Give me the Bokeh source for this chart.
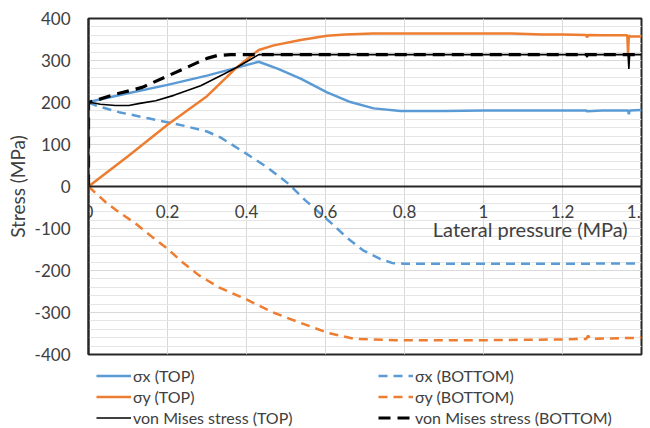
from bokeh.plotting import figure
from bokeh.models import (Range1d, FixedTicker, LinearAxis, Legend, LegendItem, Label)
from bokeh.layouts import column
from bokeh.embed import file_html
from bokeh.resources import INLINE

# ---------------- data ----------------
sx_top_x = [0, 0.1, 0.2, 0.3, 0.376, 0.431, 0.48, 0.537, 0.604, 0.663, 0.722, 0.79, 0.9, 1.0, 1.1, 1.2, 1.26, 1.262, 1.3, 1.366, 1.368, 1.37, 1.4]
sx_top_y = [201, 222, 242, 264, 283, 297, 280, 257, 224, 201, 186, 180, 180, 181, 181, 181, 181, 179, 181, 181, 172, 181, 182]

sx_bot_x = [0, 0.018, 0.077, 0.148, 0.24, 0.3, 0.334, 0.393, 0.452, 0.507, 0.549, 0.617, 0.653, 0.695, 0.737, 0.768, 0.8, 1.0, 1.2, 1.4]
sx_bot_y = [200, 193, 177, 163, 145, 131, 117, 82, 46, 6, -33, -89, -121, -152, -172, -182, -184, -184, -184, -183]

sy_top_x = [0, 0.1, 0.2, 0.3, 0.376, 0.431, 0.469, 0.537, 0.604, 0.65, 0.72, 0.8, 0.9, 1.0, 1.07, 1.15, 1.2, 1.26, 1.262, 1.265, 1.3, 1.364, 1.366, 1.368, 1.37, 1.4]
sy_top_y = [0, 72, 147, 215, 284, 325, 336, 349, 359, 362, 364, 364, 364, 364, 364, 362, 362, 361, 355, 361, 360, 360, 316, 360, 358, 357]

sy_bot_x = [0, 0.043, 0.077, 0.119, 0.161, 0.2, 0.237, 0.279, 0.33, 0.4, 0.465, 0.532, 0.608, 0.674, 0.78, 1.0, 1.2, 1.26, 1.265, 1.27, 1.4]
sy_bot_y = [0, -37, -61, -88, -120, -148, -180, -211, -240, -269, -299, -323, -349, -363, -366, -366, -364, -363, -355, -363, -360]

vm_top_x = [0, 0.03, 0.068, 0.102, 0.13, 0.17, 0.216, 0.284, 0.343, 0.376, 0.431, 0.6, 0.8, 1.0, 1.2, 1.26, 1.262, 1.265, 1.366, 1.368, 1.37, 1.4]
vm_top_y = [201, 196, 193, 193, 198, 204, 217, 240, 268, 284, 314, 314, 314, 314, 314, 314, 308, 314, 314, 280, 314, 314]

vm_bot_x = [0, 0, 0.018, 0.07, 0.136, 0.2, 0.241, 0.28, 0.3, 0.326, 0.36, 0.6, 1.0, 1.4]
vm_bot_y = [0, 200, 205, 220, 236, 263, 280, 297, 305, 312, 314, 314, 314, 314]

x_ticks = [0, 0.2, 0.4, 0.6, 0.8, 1.0, 1.2, 1.4]
x_tick_labels = ["0", "0.2", "0.4", "0.6", "0.8", "1", "1.2", "1.4"]
y_ticks = [-400, -300, -200, -100, 0, 100, 200, 300, 400]
y_tick_labels = ["-400", "-300", "-200", "-100", "0", "100", "200", "300", "400"]
y_minor_ticks = [-380, -360, -340, -320, -280, -260, -240, -220, -180, -160, -140, -120,
                 -80, -60, -40, -20, 20, 40, 60, 80, 120, 140, 160, 180,
                 220, 240, 260, 280, 320, 340, 360, 380]

labels = ["σx (TOP)", "σx (BOTTOM)", "σy (TOP)", "σy (BOTTOM)",
          "von Mises stress (TOP)", "von Mises stress (BOTTOM)"]

BLUE = "#5B9BD5"
ORANGE = "#ED7D31"
TXT = "#404040"
FONT = "Lato"

# styles for the six series (same order as labels)
styles = [dict(line_color=BLUE, line_width=2.5),
          dict(line_color=BLUE, line_width=2.5, line_dash="9 6"),
          dict(line_color=ORANGE, line_width=2.5),
          dict(line_color=ORANGE, line_width=2.5, line_dash="9 6"),
          dict(line_color="black", line_width=1.6),
          dict(line_color="black", line_width=3.2, line_dash="12 7")]
series = [(sx_top_x, sx_top_y), (sx_bot_x, sx_bot_y), (sy_top_x, sy_top_y),
          (sy_bot_x, sy_bot_y), (vm_top_x, vm_top_y), (vm_bot_x, vm_bot_y)]

p = figure(width=650, height=365, output_backend="svg", toolbar_location=None,
           x_range=Range1d(0, 1.4), y_range=Range1d(-400, 400),
           x_axis_location=None, y_axis_location="left",
           min_border_left=88, min_border_right=9, min_border_top=18, min_border_bottom=11)
p.background_fill_color = "white"
p.border_fill_color = "white"
p.outline_line_color = "#262626"
p.outline_line_width = 2

# grids
p.ygrid.ticker = FixedTicker(ticks=y_ticks, minor_ticks=y_minor_ticks)
p.ygrid.grid_line_color = "#d9d9d9"
p.ygrid.grid_line_width = 1
p.ygrid.minor_grid_line_color = "#e6e6e6"
p.ygrid.minor_grid_line_width = 1
p.xgrid.ticker = FixedTicker(ticks=x_ticks)
p.xgrid.grid_line_color = "#d9d9d9"
p.xgrid.grid_line_width = 1

# y axis
ya = p.yaxis[0]
ya.ticker = FixedTicker(ticks=y_ticks, minor_ticks=y_minor_ticks)
ya.major_label_overrides = {t: s for t, s in zip(y_ticks, y_tick_labels)}
ya.axis_line_color = "#262626"
ya.axis_line_width = 2
ya.major_tick_line_color = None
ya.minor_tick_line_color = None
ya.major_tick_out = 0
ya.minor_tick_out = 0
ya.major_label_standoff = 18
ya.major_label_text_font = FONT
ya.major_label_text_font_size = "17px"
ya.major_label_text_color = TXT
ya.axis_label = "Stress (MPa)"
ya.axis_label_text_font = FONT
ya.axis_label_text_font_size = "19px"
ya.axis_label_text_font_style = "normal"
ya.axis_label_text_color = TXT
ya.axis_label_standoff = 3

# x axis crossing at y = 0
xa = LinearAxis(fixed_location=0, ticker=FixedTicker(ticks=x_ticks))
xa.major_label_overrides = {t: s for t, s in zip(x_ticks, x_tick_labels)}
xa.axis_line_color = "#262626"
xa.axis_line_width = 2
xa.major_tick_line_color = None
xa.minor_tick_line_color = None
xa.major_tick_out = 0
xa.major_tick_in = 0
xa.major_label_standoff = 18
xa.major_label_text_font = FONT
xa.major_label_text_font_size = "17px"
xa.major_label_text_color = TXT
p.add_layout(xa, "below")

p.add_layout(Label(x=1.365, y=-100, text="Lateral pressure (MPa)", text_align="right",
                   text_baseline="middle", text_font=FONT, text_font_size="20px",
                   text_color=TXT))

for (xs, ys), st in zip(series, styles):
    p.line(xs, ys, **st)

# legend strip below the chart: the same series drawn out of view, used as legend keys
lf = figure(width=650, height=63, output_backend="svg", toolbar_location=None,
            x_range=Range1d(10, 11), y_range=Range1d(10, 11),
            x_axis_location=None, y_axis_location=None,
            min_border_left=88, min_border_right=9, min_border_top=0, min_border_bottom=0)
lf.outline_line_color = None
lf.xgrid.visible = False
lf.ygrid.visible = False
keys = [lf.line(xs, ys, **st) for (xs, ys), st in zip(series, styles)]
order = [0, 2, 4, 1, 3, 5]
legend = Legend(items=[LegendItem(label=labels[i], renderers=[keys[i]]) for i in order],
                orientation="vertical", ncols=2, location=(8, 0),
                glyph_width=35, glyph_height=21, label_height=21, label_width=245,
                label_standoff=2, spacing=0, padding=0, margin=0,
                label_text_font=FONT, label_text_font_size="16px", label_text_color=TXT,
                border_line_color=None, background_fill_alpha=0)
lf.add_layout(legend, "center")

layout = column(p, lf, spacing=0)
open("out.html", "w").write(file_html(layout, INLINE))
